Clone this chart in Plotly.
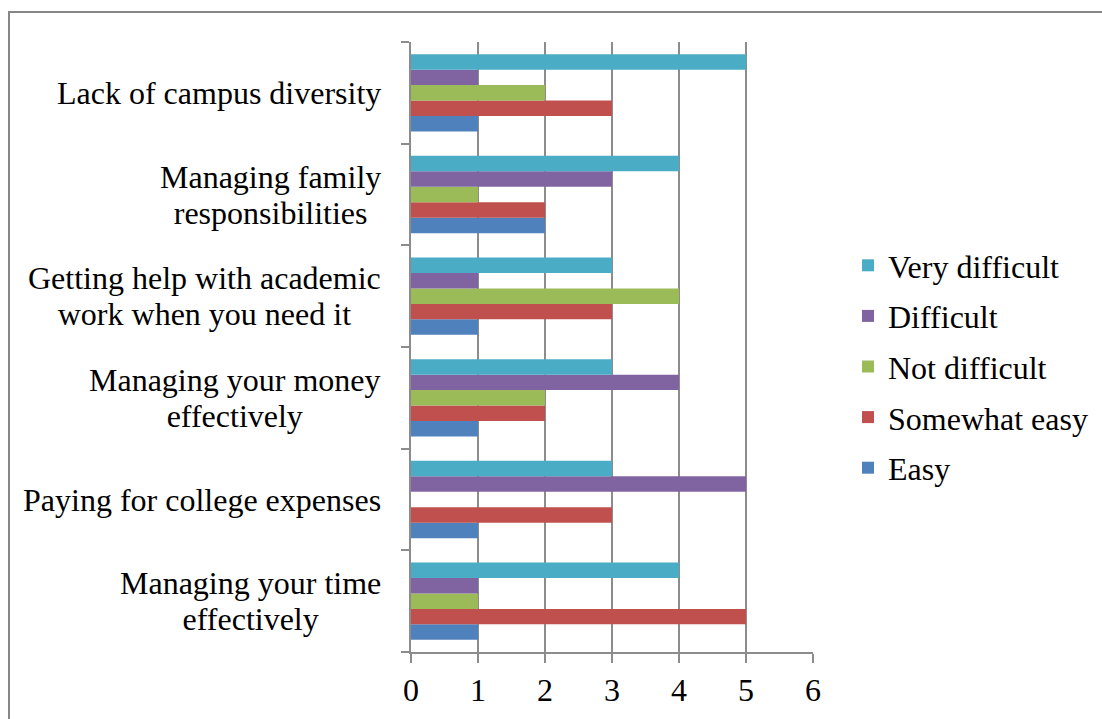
import plotly.graph_objects as go

categories = [
    "Managing your time effectively",
    "Paying for college expenses",
    "Managing your money effectively",
    "Getting help with academic work when you need it",
    "Managing family responsibilities",
    "Lack of campus diversity",
]
# How each category name is broken across lines beside the axis
category_lines = [
    ["Managing your time", "effectively"],
    ["Paying for college expenses"],
    ["Managing your money", "effectively"],
    ["Getting help with academic", "work when you need it"],
    ["Managing family", "responsibilities"],
    ["Lack of campus diversity"],
]

series_names = ["Easy", "Somewhat easy", "Not difficult", "Difficult", "Very difficult"]
easy = [1, 1, 1, 1, 2, 1]
somewhat_easy = [5, 3, 2, 3, 2, 3]
not_difficult = [1, 0, 2, 4, 1, 2]
difficult = [1, 5, 4, 1, 3, 1]
very_difficult = [4, 3, 3, 3, 4, 5]
series_values = [easy, somewhat_easy, not_difficult, difficult, very_difficult]
colors = ["#4F81BD", "#C0504D", "#9BBB59", "#8064A2", "#4BACC6"]
x_ticks = [0, 1, 2, 3, 4, 5, 6]

FONT = "Liberation Serif, Times New Roman, serif"
FS = 32
LINE_H = 36
GRID = "#8c8c8c"

fig = go.Figure()
n = len(series_names)
for i, (name, vals, col) in enumerate(zip(series_names, series_values, colors)):
    fig.add_trace(go.Bar(
        y=categories, x=vals, name=name, orientation="h",
        marker=dict(color=col, line=dict(width=0)),
        legendgroup=name, legendrank=n - i,
    ))

# Category labels: centred multi-line blocks, right edge beside the axis.
# The annotation font size sets the line pitch (1.3 em); the visible text
# is drawn at FS through an inline span.
pitch_font = LINE_H / 1.3
for cat, lines in zip(categories, category_lines):
    text = "<br>".join(f"<span style='font-size:{FS}px'>{ln}</span>" for ln in lines)
    fig.add_annotation(
        x=0, xref="paper", y=cat, yref="y", text=text,
        xanchor="right", yanchor="middle", align="center",
        xshift=-28, showarrow=False,
        font=dict(family=FONT, size=pitch_font if len(lines) > 1 else FS, color="black"),
    )

L, R, T, B = 411, 289, 42, 67
W, H = 1102, 719
pw, ph = W - L - R, H - T - B

# Chart frame (top and left edges visible)
fig.add_shape(
    type="rect", xref="paper", yref="paper",
    x0=(9 - L) / pw, x1=2.0, y0=-1.0, y1=(H - B - 12) / ph,
    line=dict(color="#878787", width=2), fillcolor="rgba(0,0,0,0)", layer="below",
)

fig.update_layout(
    width=W, height=H,
    margin=dict(l=L, r=R, t=T, b=B, autoexpand=False),
    paper_bgcolor="white", plot_bgcolor="white",
    barmode="group", bargap=0.24, bargroupgap=0,
    font=dict(family=FONT, size=FS, color="black"),
    showlegend=True,
    legend=dict(
        xref="container", yref="container",
        x=848 / W, xanchor="left", y=1 - 238 / H, yanchor="top",
        traceorder="grouped", tracegroupgap=6,
        font=dict(family=FONT, size=FS, color="black"),
        bgcolor="rgba(0,0,0,0)",
    ),
    xaxis=dict(
        range=[0, 6], tickvals=x_ticks, ticktext=[str(v) for v in x_ticks],
        showgrid=True, gridcolor=GRID, gridwidth=1.5,
        showline=True, linecolor=GRID, linewidth=1.5,
        ticks="outside", ticklen=9, tickcolor=GRID, tickwidth=1.5,
        zeroline=False, tickfont=dict(family=FONT, size=FS, color="black"),
    ),
    yaxis=dict(
        categoryorder="array", categoryarray=categories,
        showticklabels=False, showgrid=False, zeroline=False,
        showline=True, linecolor=GRID, linewidth=1.5,
        ticks="outside", ticklen=8, tickcolor=GRID, tickwidth=1.5,
        tickson="boundaries",
    ),
)

fig.write_html("out.html")
